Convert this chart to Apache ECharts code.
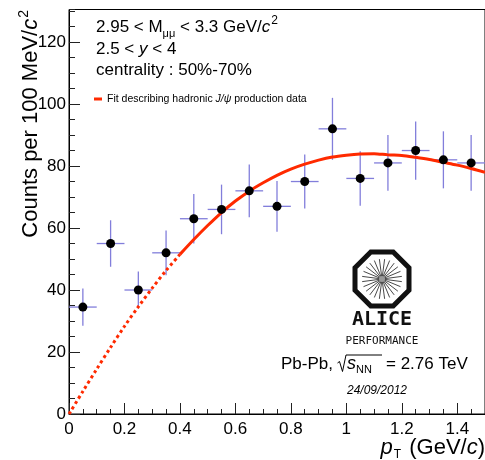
<!DOCTYPE html>
<html>
<head>
<meta charset="utf-8">
<script src="https://cdn.jsdelivr.net/npm/echarts@6/dist/echarts.min.js"></script>
<style>
  html, body { margin: 0; padding: 0; background: #fff; }
  #chart { width: 485px; height: 460px; }
</style>
</head>
<body>
<div id="chart"></div>
<script>
// J/psi candidates per pT bin, Pb-Pb 2.76 TeV, centrality 50%-70%
const ptBins = [0.05, 0.15, 0.25, 0.35, 0.45, 0.55, 0.65, 0.75, 0.85, 0.95, 1.05, 1.15, 1.25, 1.35, 1.45];
const counts = [34.5, 55, 40, 52, 63, 66, 72, 67, 75, 92, 76, 81, 85, 82, 81];
const countErr = [6, 7.5, 6, 7.2, 8, 8, 8.5, 8.2, 8.7, 10, 8.8, 9, 9.4, 9.2, 9];
const binHalfWidth = 0.05;

// Hadronic J/psi shape fit, sampled along pT
const fitPt = [0, 0.05, 0.1, 0.15, 0.2, 0.25, 0.3, 0.35, 0.4, 0.45, 0.5, 0.55, 0.6, 0.65, 0.7, 0.75,
               0.8, 0.85, 0.9, 0.95, 1.0, 1.05, 1.1, 1.15, 1.2, 1.25, 1.3, 1.35, 1.4, 1.45, 1.5];
const fitVal = [0, 7.3, 14.5, 21.5, 28.3, 34.6, 40.6, 46.3, 51.5, 56.3, 60.8, 65, 68.7, 71.9, 74.6, 77,
                79, 80.6, 81.9, 82.9, 83.5, 83.9, 84, 83.6, 83.4, 82.8, 82.1, 81.2, 80.3, 79.2, 78];
const fitSolidFrom = 0.4;   // below this the fit is drawn as an extrapolation

const xTicks = [0, 0.2, 0.4, 0.6, 0.8, 1, 1.2, 1.4];
const yTicks = [0, 20, 40, 60, 80, 100, 120];

const FONT = '"Liberation Sans", Helvetica, Arial, sans-serif';
const ERR_COLOR = '#827edb';
const FIT_COLOR = '#ff2a00';

const errData = ptBins.map((x, i) => [x, counts[i], countErr[i]]);
const pointData = ptBins.map((x, i) => [x, counts[i]]);
const fitDotted = [], fitSolid = [];
fitPt.forEach((x, i) => {
  if (x <= fitSolidFrom + 1e-9) fitDotted.push([x, fitVal[i]]);
  if (x >= fitSolidFrom - 1e-9) fitSolid.push([x, fitVal[i]]);
});

const X_MIN = 0, X_MAX = 1.5, Y_MIN = 0, Y_MAX = 130.5;
const TICK_STYLE = { color: '#222', width: 1 };

const option = {
  backgroundColor: '#fff',
  animation: false,
  grid: {
    left: 69, right: -2.5, top: 9.5, bottom: 46,
    show: true, borderColor: '#000', borderWidth: 1, backgroundColor: 'transparent'
  },
  xAxis: [
    {
      type: 'value', position: 'bottom', min: X_MIN, max: X_MAX, interval: 0.2, gridIndex: 0,
      axisLine: { show: true, onZero: false, lineStyle: { color: '#000', width: 1 } },
      axisTick: { show: true, inside: true, length: 11, lineStyle: TICK_STYLE },
      axisLabel: {
        show: true, showMaxLabel: false, margin: 7,
        color: '#000', fontSize: 17, fontFamily: FONT,
        formatter: v => (xTicks.some(t => Math.abs(t - v) < 1e-6) ? String(+v.toFixed(1)) : '')
      },
      splitLine: { show: false }
    },
    {
      type: 'value', position: 'bottom', min: X_MIN, max: X_MAX, interval: 0.05, gridIndex: 0,
      axisLine: { show: false, onZero: false },
      axisTick: { show: true, inside: true, length: 5, lineStyle: TICK_STYLE },
      axisLabel: { show: false },
      splitLine: { show: false }
    }
  ],
  yAxis: [
    {
      type: 'value', position: 'left', min: Y_MIN, max: Y_MAX, interval: 20, gridIndex: 0,
      axisLine: { show: true, onZero: false, lineStyle: { color: '#000', width: 1 } },
      axisTick: { show: true, inside: true, length: 11, lineStyle: TICK_STYLE },
      axisLabel: {
        show: true, showMaxLabel: false, margin: 3,
        color: '#000', fontSize: 17, fontFamily: FONT,
        formatter: v => (yTicks.indexOf(Math.round(v)) >= 0 && Math.abs(v - Math.round(v)) < 1e-6 ? String(Math.round(v)) : '')
      },
      splitLine: { show: false }
    },
    {
      type: 'value', position: 'left', min: Y_MIN, max: Y_MAX, interval: 5, gridIndex: 0,
      axisLine: { show: false, onZero: false },
      axisTick: { show: true, inside: true, length: 6, lineStyle: TICK_STYLE },
      axisLabel: { show: false },
      splitLine: { show: false }
    }
  ],
  series: [
    {
      name: 'fitExtrapolation', type: 'line', xAxisIndex: 0, yAxisIndex: 0,
      data: fitDotted, showSymbol: false, smooth: 0.3, z: 3,
      lineStyle: { color: FIT_COLOR, width: 3, type: [3, 3], cap: 'butt' }
    },
    {
      name: 'fit', type: 'line', xAxisIndex: 0, yAxisIndex: 0,
      data: fitSolid, showSymbol: false, smooth: 0.3, z: 3,
      lineStyle: { color: FIT_COLOR, width: 3 }
    },
    {
      name: 'errors', type: 'custom', xAxisIndex: 0, yAxisIndex: 0, z: 2,
      data: errData,
      encode: { x: 0, y: 1 },
      renderItem: function (params, api) {
        const x = api.value(0), y = api.value(1), e = api.value(2);
        const top = api.coord([x, y + e]);
        const bot = api.coord([x, y - e]);
        const l = api.coord([x - binHalfWidth, y]);
        const r = api.coord([x + binHalfWidth, y]);
        const st = { stroke: ERR_COLOR, lineWidth: 1.3 };
        return {
          type: 'group',
          children: [
            { type: 'line', shape: { x1: top[0], y1: top[1], x2: bot[0], y2: bot[1] }, style: st },
            { type: 'line', shape: { x1: l[0], y1: l[1], x2: r[0], y2: r[1] }, style: st }
          ]
        };
      }
    },
    {
      name: 'counts', type: 'scatter', xAxisIndex: 0, yAxisIndex: 0, z: 5,
      data: pointData, symbol: 'circle', symbolSize: 9,
      itemStyle: { color: '#000', opacity: 1 }
    }
  ],
  graphic: buildGraphics()
};

function buildGraphics() {
  const g = [];
  const base = { fill: '#000', fontFamily: FONT };

  // Y axis title
  g.push({
    type: 'text', x: 31, y: 10, rotation: Math.PI / 2,
    style: Object.assign({}, base, {
      text: 'Counts per 100 MeV/{i|c}{sup|2}',
      fontSize: 22, align: 'right', verticalAlign: 'middle', lineHeight: 28,
      rich: {
        i: { fontSize: 22, fontStyle: 'italic', fontFamily: FONT, lineHeight: 28 },
        sup: { fontSize: 14, fontFamily: FONT, verticalAlign: 'top', lineHeight: 14, padding: [0, 0, 0, 1] }
      }
    })
  });

  // X axis title
  g.push({
    type: 'text', x: 485, y: 448,
    style: Object.assign({}, base, {
      text: '{i|p}{sub|T} (GeV/{i|c})',
      fontSize: 22, align: 'right', verticalAlign: 'middle', lineHeight: 26,
      rich: {
        i: { fontSize: 22, fontStyle: 'italic', fontFamily: FONT, lineHeight: 26 },
        sub: { fontSize: 12, fontFamily: FONT, verticalAlign: 'bottom', lineHeight: 12, padding: [0, 2, 0, 1] }
      }
    })
  });

  // Selection text block
  const richTxt = {
    sub: { fontSize: 11, fontFamily: FONT, verticalAlign: 'bottom', lineHeight: 11 },
    sup: { fontSize: 12, fontFamily: FONT, verticalAlign: 'top', lineHeight: 12, padding: [0, 0, 0, 1] },
    i: { fontSize: 17, fontStyle: 'italic', fontFamily: FONT, lineHeight: 24 }
  };
  g.push({
    type: 'text', x: 96, y: 27,
    style: Object.assign({}, base, {
      text: '2.95 < M{sub|μμ} < 3.3 GeV/{i|c}{sup|2}',
      fontSize: 17, verticalAlign: 'middle', lineHeight: 24, rich: richTxt
    })
  });
  g.push({
    type: 'text', x: 96, y: 49,
    style: Object.assign({}, base, {
      text: '2.5 < {i|y} < 4', fontSize: 17, verticalAlign: 'middle', lineHeight: 24, rich: richTxt
    })
  });
  g.push({
    type: 'text', x: 96, y: 70,
    style: Object.assign({}, base, {
      text: 'centrality : 50%-70%', fontSize: 17, verticalAlign: 'middle'
    })
  });

  // Legend entry for the fit
  g.push({ type: 'rect', shape: { x: 94, y: 97.5, width: 8, height: 3 }, style: { fill: FIT_COLOR } });
  g.push({
    type: 'text', x: 107, y: 99,
    style: Object.assign({}, base, {
      text: 'Fit describing hadronic {i|J/ψ} production data',
      fontSize: 10.5, verticalAlign: 'middle',
      rich: { i: { fontSize: 10.5, fontStyle: 'italic', fontFamily: FONT } }
    })
  });

  // ALICE logo
  const cx = 382, cy = 279, h = 27, s = 11.2;
  g.push({
    type: 'polygon',
    shape: { points: [[cx - s, cy - h], [cx + s, cy - h], [cx + h, cy - s], [cx + h, cy + s],
                      [cx + s, cy + h], [cx - s, cy + h], [cx - h, cy + s], [cx - h, cy - s]] },
    style: { fill: '#fff', stroke: '#111', lineWidth: 5, lineJoin: 'miter' }
  });
  for (let k = 0; k < 24; k++) {
    const a = k * Math.PI / 12 + Math.PI / 24;
    g.push({
      type: 'line',
      shape: { x1: cx + 2 * Math.cos(a), y1: cy + 2 * Math.sin(a), x2: cx + 20 * Math.cos(a), y2: cy + 20 * Math.sin(a) },
      style: { stroke: '#333', lineWidth: 0.9 }
    });
  }
  g.push({ type: 'circle', shape: { cx: cx, cy: cy, r: 3 }, style: { fill: '#999' } });
  g.push({
    type: 'text', x: cx, y: 320,
    style: { text: 'ALICE', fill: '#111', fontFamily: '"DejaVu Sans Mono", monospace', fontWeight: 'bold',
             fontSize: 20, align: 'center', verticalAlign: 'middle' }
  });
  g.push({
    type: 'text', x: cx, y: 341.5,
    style: { text: 'PERFORMANCE', fill: '#111', fontFamily: '"DejaVu Sans Mono", monospace',
             fontSize: 11, align: 'center', verticalAlign: 'middle' }
  });

  // Collision system label with a drawn radical sign
  g.push({
    type: 'text', x: 281, y: 364,
    style: Object.assign({}, base, { text: 'Pb-Pb,', fontSize: 17, verticalAlign: 'middle' })
  });
  g.push({
    type: 'polyline',
    shape: { points: [[337.5, 363], [339.5, 361.5], [342.5, 371.5], [346, 355], [382, 355]] },
    style: { stroke: '#000', lineWidth: 1, fill: null }
  });
  g.push({
    type: 'text', x: 347, y: 364,
    style: Object.assign({}, base, {
      text: '{s|s}{sub|NN}', fontSize: 17, verticalAlign: 'middle', lineHeight: 22,
      rich: {
        s: { fontSize: 18, fontStyle: 'italic', fontFamily: FONT, lineHeight: 22 },
        sub: { fontSize: 11, fontFamily: FONT, verticalAlign: 'bottom', lineHeight: 11 }
      }
    })
  });
  g.push({
    type: 'text', x: 386, y: 364,
    style: Object.assign({}, base, { text: '= 2.76 TeV', fontSize: 17, verticalAlign: 'middle' })
  });

  // Date stamp
  g.push({
    type: 'text', x: 377, y: 391,
    style: Object.assign({}, base, { text: '24/09/2012', fontSize: 12, fontStyle: 'italic',
                                     align: 'center', verticalAlign: 'middle' })
  });
  return g;
}

const chart = echarts.init(document.getElementById('chart'), null, { renderer: 'canvas' });
chart.setOption(option);
</script>
</body>
</html>
